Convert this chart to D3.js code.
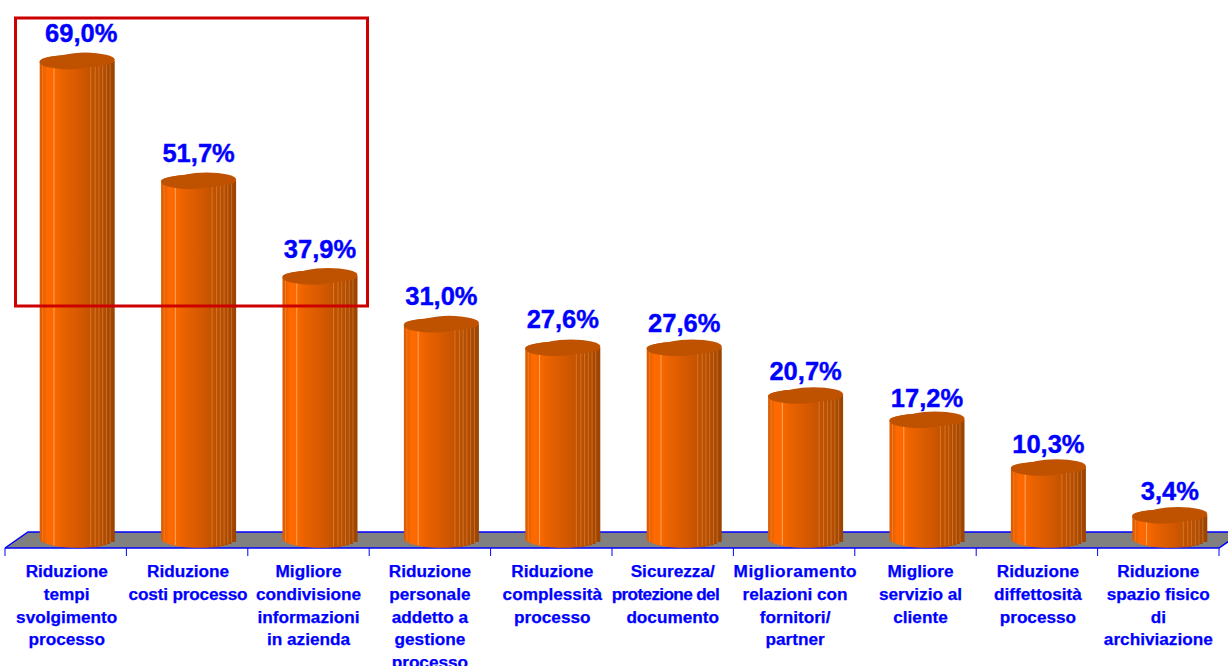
<!DOCTYPE html>
<html>
<head>
<meta charset="utf-8">
<script src="https://cdn.jsdelivr.net/npm/d3@7"></script>
<style>
  html, body { margin: 0; padding: 0; background: #fff; overflow: hidden; }
  svg { display: block; font-family: "Liberation Sans", Arial, sans-serif; font-weight: bold; }
</style>
</head>
<body>
<svg id="chart" width="1228" height="666"></svg>
<script>
// Benefit categories, one array of wrapped lines per column
const categories = [
  ["Riduzione", "tempi", "svolgimento", "processo"],
  ["Riduzione", "costi processo"],
  ["Migliore", "condivisione", "informazioni", "in azienda"],
  ["Riduzione", "personale", "addetto a", "gestione", "processo"],
  ["Riduzione", "complessità", "processo"],
  ["Sicurezza/", "protezione del", "documento"],
  ["Miglioramento", "relazioni con", "fornitori/", "partner"],
  ["Migliore", "servizio al", "cliente"],
  ["Riduzione", "diffettosità", "processo"],
  ["Riduzione", "spazio fisico", "di", "archiviazione"]
];
const values = [69.0, 51.7, 37.9, 31.0, 27.6, 27.6, 20.7, 17.2, 10.3, 3.4];

// Vertical gap between a cylinder top and its percentage label
const labelLift = [28, 28, 27, 28, 28.5, 25, 24.5, 22, 23.5, 24];
// Slight horizontal shift of the wrapped category labels
const categoryShift = [1, 1, 0, 0, 1, 0, 1, 5, 1, 0];
const lineShift = { "protezione del": -7 };
// Lines set to a fixed width so they stay inside their column
const lineFit = { "protezione del": 108, "costi processo": 119, "Miglioramento": 123 };

const svg = d3.select("#chart");
const ids = d3.range(categories.length);

const x = d3.scaleBand().domain(ids).range([5, 1219]).paddingInner(0).paddingOuter(0);
const y = d3.scaleLinear().domain([0, 69]).range([539, 61]);
const percent = d3.formatLocale({ decimal: ",", thousands: ".", grouping: [3], currency: ["", ""] }).format(".1f");

const floor = { front: 548, back: 532, depth: 23 };
const cyl = { rx: 37.5, ry: 8, baseRy: 9, offset: 11.5 };
const centre = i => x(i) + x.bandwidth() / 2 + cyl.offset;

// Shading across the cylinder face
const defs = svg.append("defs");
const grad = defs.append("linearGradient").attr("id", "face")
  .attr("x1", 0).attr("x2", 1).attr("y1", 0).attr("y2", 0);
[[0, "#dc5a00"], [0.05, "#e86100"], [0.1, "#ff6a00"], [0.19, "#fb6800"], [0.3, "#e96200"], [0.55, "#d35800"],
 [0.7, "#c05200"], [0.85, "#b44d00"], [1, "#9a4300"]]
  .forEach(([o, c]) => grad.append("stop").attr("offset", o).attr("stop-color", c));

// Floor of the 3D plot
const [x0, x1] = x.range();
svg.append("path")
  .attr("d", d3.line()([[x0, floor.front], [x0 + floor.depth, floor.back],
                        [x1 + floor.depth, floor.back], [x1, floor.front]]) + "Z")
  .attr("fill", "#808080");
svg.append("path")
  .attr("d", d3.line()([[x0, floor.front], [x0 + floor.depth, floor.back], [x1 + floor.depth, floor.back]]))
  .attr("fill", "none").attr("stroke", "#0000ff").attr("stroke-width", 1.5);
svg.append("path")
  .attr("d", d3.line()([[x0, floor.front], [x1, floor.front], [x1 + floor.depth, floor.back]]))
  .attr("fill", "none").attr("stroke", "#0000ff").attr("stroke-width", 1.5);

// Category separators below the floor
svg.append("g").selectAll("line").data(d3.range(categories.length + 1)).join("line")
  .attr("x1", i => x0 + i * x.step()).attr("x2", i => x0 + i * x.step())
  .attr("y1", floor.front).attr("y2", floor.front + 8)
  .attr("stroke", "#0000ff").attr("stroke-width", 1);

// Facet seams across the face, as fractions of its width
const seams = [0.04, 0.19, 0.68, 0.74, 0.79, 0.84, 0.89, 0.94];
const seamY = f => Math.sqrt(Math.max(0, 1 - (2 * f - 1) ** 2));
const toX = f => (f - 0.5) * 2 * cyl.rx;

const bars = svg.append("g").selectAll("g").data(values).join("g")
  .attr("transform", (d, i) => `translate(${centre(i)},0)`);

// Cylinder body; the base steps up facet by facet towards the right edge
const baseStops = [1, 0.94, 0.89, 0.84, 0.79, 0.74, 0.68];
bars.append("path")
  .attr("fill", "url(#face)")
  .attr("d", d => {
    const top = y(d), base = y(0);
    const steps = baseStops.slice(1).map((f, i) => {
      const yy = base + cyl.baseRy * seamY((f + baseStops[i]) / 2);
      return `L${toX(baseStops[i])},${yy}L${toX(f)},${yy}`;
    }).join("");
    return `M${-cyl.rx},${top}L${cyl.rx},${top}L${cyl.rx},${base}${steps}` +
           `A${cyl.rx},${cyl.baseRy} 0 0 1 ${-cyl.rx},${base}Z`;
  });

bars.selectAll("line.seam").data(d => seams.map(f => ({ f, d }))).join("line")
  .attr("class", "seam")
  .attr("x1", s => toX(s.f)).attr("x2", s => toX(s.f))
  .attr("y1", s => y(s.d) + cyl.ry * seamY(s.f) * 0.7)
  .attr("y2", s => y(0) + cyl.baseRy * seamY(s.f) - 1)
  .attr("stroke", "#ffc080")
  .attr("stroke-opacity", s => s.f === 0.19 ? 0.7 : 0.32)
  .attr("stroke-width", 1);

// Uneven top face: a full ellipse with two lobes laid over it
const topFill = "#bf5200";
bars.append("ellipse")
  .attr("fill", topFill)
  .attr("cx", 0).attr("cy", d => y(d))
  .attr("rx", cyl.rx).attr("ry", cyl.ry - 1.8);
bars.append("ellipse")
  .attr("fill", topFill)
  .attr("cx", -8).attr("cy", d => y(d) + 1.2)
  .attr("rx", cyl.rx - 8).attr("ry", cyl.ry - 1);
bars.append("ellipse")
  .attr("fill", topFill)
  .attr("cx", 8).attr("cy", d => y(d) - 1.4)
  .attr("rx", cyl.rx - 8).attr("ry", cyl.ry - 1);

// Percentage labels
svg.append("g").selectAll("text").data(values).join("text")
  .attr("x", (d, i) => centre(i) + (i === 0 ? 4 : 0))
  .attr("y", (d, i) => y(d) - labelLift[i])
  .attr("dy", "0.35em")
  .attr("text-anchor", "middle")
  .attr("font-size", 25.5)
  .attr("fill", "#0000ff")
  .attr("stroke", "#0000ff").attr("stroke-width", 0.4)
  .text(d => percent(d) + "%");

// Wrapped category labels
const catText = svg.append("g").selectAll("text").data(categories).join("text")
  .attr("text-anchor", "middle")
  .attr("font-size", 17.2)
  .attr("fill", "#0000ff")
  .attr("stroke", "#0000ff").attr("stroke-width", 0.25);
catText.selectAll("tspan").data((d, i) => d.map((t, k) => ({ t, k, i }))).join("tspan")
  .attr("x", s => x(s.i) + x.bandwidth() / 2 + categoryShift[s.i] + (lineShift[s.t] || 0))
  .attr("y", s => 577 + s.k * 22.8)
  .attr("textLength", s => lineFit[s.t] || null)
  .attr("lengthAdjust", s => lineFit[s.t] ? "spacing" : null)
  .text(s => s.t);

// Red highlight frame around the leading three columns
svg.append("rect")
  .attr("x", 15.5).attr("y", 18).attr("width", 352).attr("height", 288)
  .attr("fill", "none").attr("stroke", "#cc0000").attr("stroke-width", 3);
</script>
</body>
</html>
